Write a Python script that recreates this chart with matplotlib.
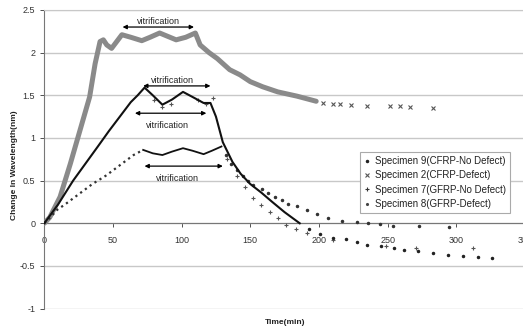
import matplotlib
matplotlib.use("Agg")
import matplotlib.pyplot as plt
from matplotlib.lines import Line2D

plt.rcParams['font.family'] = ['Liberation Sans', 'DejaVu Sans']

# Specimen 2 (CFRP-Defect): dense gray band, then sparse x markers
t2_band = [0, 4, 11.5, 19, 26, 33, 37, 40.6, 43, 45.5, 49, 56.5, 63, 71, 77, 84, 90, 96, 103, 110,
           113.5, 120, 126, 135, 142.5, 150, 159, 170, 184, 198]
v2_band = [0, 0.07, 0.31, 0.7, 1.09, 1.48, 1.87, 2.13, 2.15, 2.09, 2.05, 2.21, 2.18, 2.14, 2.18, 2.23,
           2.19, 2.15, 2.18, 2.23, 2.09, 2.0, 1.93, 1.8, 1.74, 1.66, 1.6, 1.54, 1.49, 1.43]
t2_tail = [203, 210, 215, 223, 235, 252, 259, 266, 283]
v2_tail = [1.41, 1.4, 1.4, 1.39, 1.38, 1.37, 1.37, 1.36, 1.35]

# Specimen 9 (CFRP-No Defect): solid black curve, then dots
t9_line = [0, 10, 21, 30, 39, 47, 55, 63, 68, 73, 79, 86, 93, 101, 108, 116, 121, 125, 130, 137,
           143, 150, 158, 166, 175, 186]
v9_line = [0, 0.22, 0.5, 0.7, 0.9, 1.08, 1.25, 1.42, 1.5, 1.59, 1.5, 1.39, 1.45, 1.54, 1.48, 1.41,
           1.41, 1.25, 0.95, 0.72, 0.58, 0.46, 0.36, 0.25, 0.13, 0.0]
t9_tail = [193, 201, 210, 220, 228, 235, 245, 255, 262, 272, 283, 294, 305, 316, 326]
v9_tail = [-0.07, -0.13, -0.17, -0.19, -0.22, -0.25, -0.27, -0.29, -0.31, -0.33, -0.35, -0.37,
           -0.38, -0.4, -0.41]

# Specimen 7 (GFRP-No Defect): + markers
t7 = [80, 86, 92, 112, 118, 123, 133, 140, 146, 152, 158, 164, 170, 176, 183, 191, 210, 249, 271, 312]
v7 = [1.45, 1.36, 1.4, 1.44, 1.4, 1.47, 0.75, 0.55, 0.42, 0.3, 0.22, 0.13, 0.06, -0.02, -0.07,
      -0.11, -0.2, -0.27, -0.29, -0.29]

# Specimen 8 (GFRP-Defect): dotted rise, solid wave, dotted decay
t8_rise = [0, 5, 9.5, 15, 20, 25, 30, 35, 40, 45, 50, 55, 60, 65, 72]
v8_rise = [0, 0.08, 0.16, 0.22, 0.28, 0.34, 0.4, 0.46, 0.51, 0.56, 0.62, 0.68, 0.74, 0.8, 0.86]
t8_wave = [72, 79, 86, 93, 101, 108, 116, 122, 129]
v8_wave = [0.86, 0.82, 0.8, 0.84, 0.88, 0.85, 0.81, 0.85, 0.9]
t8_decay = [132, 136, 140, 145, 148, 152.2, 158.3, 163.2, 168, 172.9, 177.7, 183.8, 191, 198.4,
            206.8, 216.6, 227.5, 236, 244.5, 254.2, 273, 295]
v8_decay = [0.8, 0.7, 0.62, 0.55, 0.5, 0.45, 0.4, 0.35, 0.31, 0.27, 0.23, 0.2, 0.16, 0.11,
            0.06, 0.03, 0.01, 0.0, -0.01, -0.03, -0.03, -0.04]

# vitrification arrows: (start, end, y, text x, text y)
arrows = [(57, 109, 2.30, 83, 2.36),
          (72, 121, 1.61, 93, 1.67),
          (66, 118, 1.29, 90, 1.15),
          (73, 130, 0.67, 97, 0.53)]

fig = plt.figure(figsize=(5.23, 3.30), dpi=100)
ax = fig.add_axes([0.0847, 0.0648, 0.919, 0.905])

ax.plot(t2_band, v2_band, color='#8a8a8a', lw=3.6, solid_capstyle='round',
        solid_joinstyle='round', zorder=3)
ax.plot(t2_tail, v2_tail, 'x', color='#555555', ms=3.5, mew=0.8, zorder=3)
ax.plot(t9_line, v9_line, color='#111111', lw=1.5, zorder=4)
ax.plot(t9_tail, v9_tail, '.', color='#222222', ms=3, zorder=4)
ax.plot(t7, v7, '+', color='#555555', ms=3.5, mew=0.8, zorder=3)
ax.plot(t8_rise, v8_rise, ':', color='#333333', lw=1.6, zorder=3)
ax.plot(t8_wave, v8_wave, color='#111111', lw=1.3, zorder=3)
ax.plot(t8_decay, v8_decay, '.', color='#333333', ms=3, zorder=3)

for x0, x1, y, tx, ty in arrows:
    ax.annotate('', xy=(x1, y), xytext=(x0, y),
                arrowprops=dict(arrowstyle='<|-|>', color='black', lw=0.9,
                                mutation_scale=6, shrinkA=0, shrinkB=0))
    ax.text(tx, ty, 'vitrification', fontsize=6.5, ha='center', va='center', color='#222222')

ax.set_xlim(0, 350)
ax.set_ylim(-1, 2.5)
ax.set_xticks(range(0, 351, 50))
ax.set_yticks([-1, -0.5, 0, 0.5, 1, 1.5, 2, 2.5])
ax.set_yticklabels(['-1', '-0.5', '0', '0.5', '1', '1.5', '2', '2.5'])
ax.grid(axis='y', color='#c8c8c8', lw=1)
ax.set_axisbelow(True)

ax.spines['bottom'].set_position(('data', 0))
ax.spines['bottom'].set_color('#777777')
ax.spines['left'].set_color('#777777')
ax.spines['top'].set_color('#c8c8c8')
ax.spines['right'].set_visible(False)
ax.tick_params(axis='both', labelsize=6.5, colors='#333333', length=3, width=0.6)
ax.tick_params(axis='x', pad=6)
ax.set_xticklabels([str(v) for v in range(0, 351, 50)])

fig.text(0.545, 0.018, 'Time(min)', fontsize=6, fontweight='bold', ha='center', color='#222222')
fig.text(0.028, 0.5, 'Change In Wavelength(nm)', fontsize=6, fontweight='bold',
         rotation=90, va='center', ha='center', color='#222222')

handles = [Line2D([], [], ls='', marker='.', color='#222222', ms=3),
           Line2D([], [], ls='', marker='x', color='#555555', ms=3, mew=0.8),
           Line2D([], [], ls='', marker='+', color='#333333', ms=3.5, mew=0.8),
           Line2D([], [], ls='', marker='.', color='#444444', ms=2.5)]
labels = ['Specimen 9(CFRP-No Defect)', 'Specimen 2(CFRP-Defect)',
          'Specimen 7(GFRP-No Defect)', 'Specimen 8(GFRP-Defect)']
leg = ax.legend(handles, labels, loc='upper left', bbox_to_anchor=(0.646, 0.54),
                fontsize=7, handlelength=0.8, handletextpad=0.4, labelspacing=0.45,
                borderpad=0.4, fancybox=False, framealpha=1, edgecolor='#aaaaaa')
leg.get_frame().set_linewidth(0.8)
for txt in leg.get_texts():
    txt.set_color('#222222')

fig.savefig('out.png', dpi=100)
